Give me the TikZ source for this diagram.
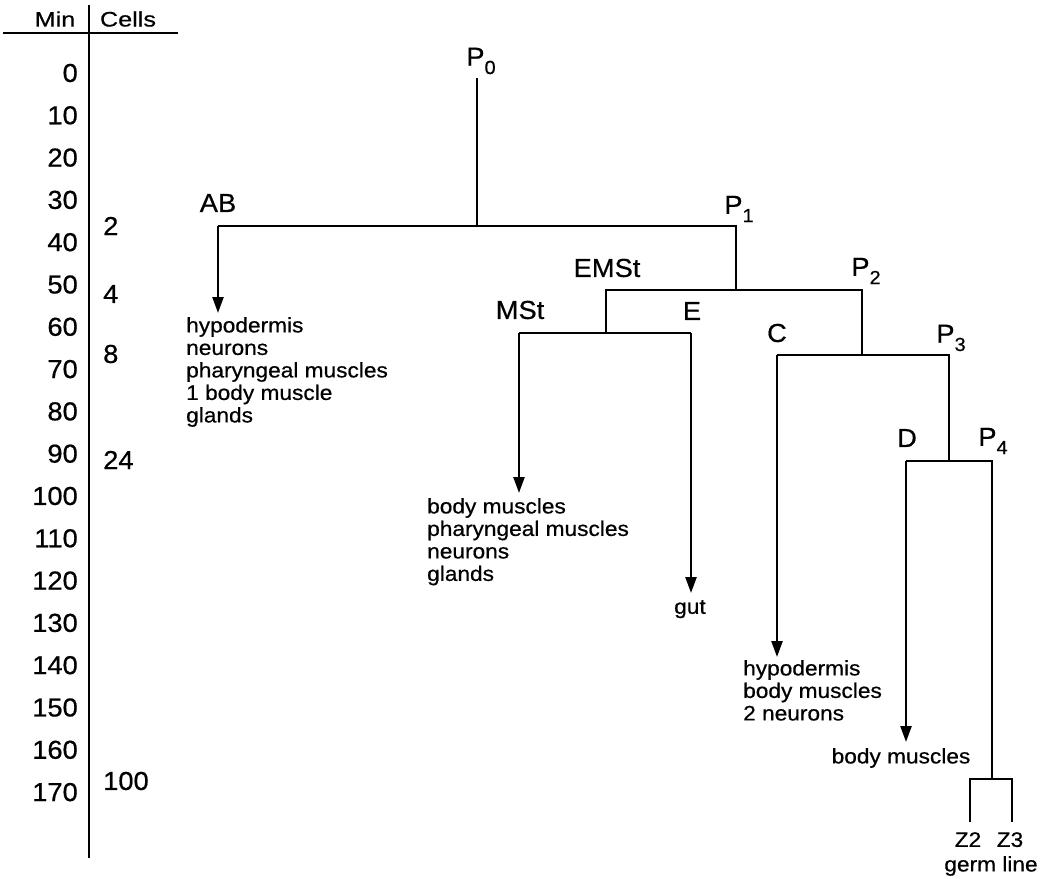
\documentclass[tikz,border=0pt]{standalone}
\usepackage{fontspec}
\setmainfont{Liberation Sans}
\newfontfamily\bigf[FakeStretch=1.05,FakeBold=0.6]{Liberation Sans}
\newfontfamily\smf[FakeStretch=1.08,FakeBold=0.6]{Liberation Sans}
\newfontfamily\hdf[FakeStretch=1.2,FakeBold=0.6]{Liberation Sans}
\usetikzlibrary{arrows.meta}
\newcommand{\Pn}[1]{P\raisebox{-0.32em}{\fontsize{19}{19}\selectfont #1}}
\tikzset{
  big/.style={font=\bigf\fontsize{26}{30}\selectfont, inner sep=0pt},
  head/.style={font=\hdf\fontsize{21}{24}\selectfont, inner sep=0pt},
  lab/.style={font=\smf\fontsize{21}{22.5}\selectfont, align=left, inner sep=0pt, anchor=north west},
  ln/.style={line width=2.4pt},
  arr/.style={line width=2.4pt, -{Triangle[length=16pt,width=11pt]}},
}
\begin{document}
\begin{tikzpicture}[x=1pt,y=-1pt]
\useasboundingbox (0,0) rectangle (1051,878);
% header and axis
\node[head] (min) at (55,19) {Min};
\node[head] (cells) at (128,19) {Cells};
\coordinate (hl) at (3,33);
\coordinate (hr) at (178,33);
\coordinate (vt) at (89,5);
\coordinate (vb) at (89,858);
\draw[ln] (hl) -- (hr);
\draw[ln] (vt) -- (vb);
\foreach \t [count=\k from 0] in {0,10,20,30,40,50,60,70,80,90,100,110,120,130,140,150,160,170}{
  \node[big, anchor=east] (m\t) at (78,{73+42.3*\k}) {\t};
}
\node[big, anchor=west] (c2) at (103,226) {2};
\node[big, anchor=west] (c4) at (103,294) {4};
\node[big, anchor=west] (c8) at (103,354) {8};
\node[big, anchor=west] (c24) at (103,460) {24};
\node[big, anchor=west] (c100) at (103,781) {100};
% cell labels
\node[big] (P0) at (481,61) {\Pn{0}};
\node[big] (AB) at (218,203) {AB};
\node[big] (P1) at (739,209) {\Pn{1}};
\node[big] (EMSt) at (607,268) {EMSt};
\node[big] (P2) at (866,271) {\Pn{2}};
\node[big] (MSt) at (520,310) {MSt};
\node[big] (E) at (692,311) {E};
\node[big] (C) at (777,333) {C};
\node[big] (P3) at (951,338) {\Pn{3}};
\node[big] (D) at (907,438) {D};
\node[big] (P4) at (993,441) {\Pn{4}};
% junctions
\coordinate (p0t) at (477,78);
\coordinate (p0b) at (477,226);
\coordinate (abj) at (218,226);
\coordinate (abe) at (218,313);
\coordinate (p1j) at (736,226);
\coordinate (p1b) at (736,290);
\coordinate (emsj) at (606,290);
\coordinate (p2j) at (862,290);
\coordinate (emsb) at (606,333);
\coordinate (mstj) at (519,333);
\coordinate (mste) at (519,493);
\coordinate (ej) at (691,333);
\coordinate (ee) at (691,593);
\coordinate (p2b) at (862,355);
\coordinate (cj) at (777,355);
\coordinate (ce) at (777,657);
\coordinate (p3j) at (949,355);
\coordinate (p3b) at (949,461);
\coordinate (dj) at (906,461);
\coordinate (de) at (906,742);
\coordinate (p4j) at (992,461);
\coordinate (p4b) at (992,779);
\coordinate (z2t) at (970,779);
\coordinate (z3t) at (1012,779);
\coordinate (z2b) at (970,822);
\coordinate (z3b) at (1012,822);
% fate labels
\node[lab] (abf) at (186,317) {hypodermis\\neurons\\pharyngeal muscles\\1 body muscle\\glands};
\node[lab] (mstf) at (427,498) {body muscles\\pharyngeal muscles\\neurons\\glands};
\node[lab, anchor=north] (ef) at (690,600) {gut};
\node[lab] (cf) at (743,660) {hypodermis\\body muscles\\2 neurons};
\node[lab, anchor=north] (df) at (901,748) {body muscles};
\node[lab, anchor=north] (z2) at (968,832) {Z2};
\node[lab, anchor=north] (z3) at (1010,832) {Z3};
\node[lab, anchor=north] (gl) at (991,856) {germ line};
% lineage lines
\draw[ln] (p0t) -- (p0b);
\draw[ln] (abj) -- (p1j) -- (p1b);
\draw[ln] (emsb) -- (emsj) -- (p2j) -- (p2b);
\draw[ln] (mstj) -- (ej);
\draw[ln] (cj) -- (p3j) -- (p3b);
\draw[ln] (dj) -- (p4j) -- (p4b);
\draw[ln] (z2b) -- (z2t) -- (z3t) -- (z3b);
\draw[arr] (abj) -- (abe);
\draw[arr] (mstj) -- (mste);
\draw[arr] (ej) -- (ee);
\draw[arr] (cj) -- (ce);
\draw[arr] (dj) -- (de);
\end{tikzpicture}
\end{document}
